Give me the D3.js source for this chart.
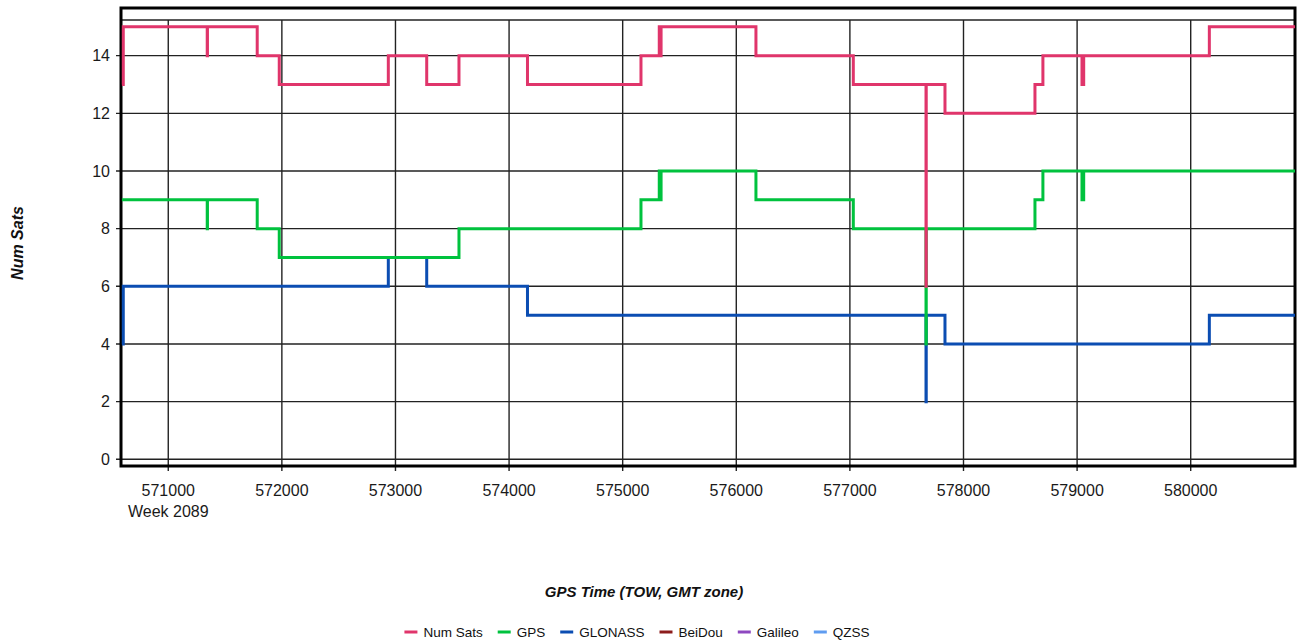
<!DOCTYPE html>
<html>
<head>
<meta charset="utf-8">
<script src="https://cdn.jsdelivr.net/npm/d3@7"></script>
<style>
  body { margin: 0; background: #fff; }
  text { font-family: "Liberation Sans", Arial, sans-serif; }
</style>
</head>
<body>
<div id="chart"></div>
<script>
// GPS time of week (s) where the satellite counts change
var times = [570592, 570604, 571343, 571345, 571783, 571977, 572937, 573275, 573559, 574162,
             575161, 575322, 575330, 575338, 576173, 577030, 577670, 577672, 577837, 578629,
             578699, 579043, 579058, 580164, 580918];
var numSats = [13, 15, 14, 15, 14, 13, 14, 13, 14, 13,
               14, 15, 14, 15, 14, 13, 6, 13, 12, 13,
               14, 13, 14, 15, 15];
var gpsSats = [9, 9, 8, 9, 8, 7, 7, 7, 8, 8,
               9, 10, 9, 10, 9, 8, 4, 8, 8, 9,
               10, 9, 10, 10, 10];
var glonassSats = [4, 6, 6, 6, 6, 6, 7, 6, 6, 5,
                   5, 5, 5, 5, 5, 5, 2, 5, 4, 4,
                   4, 4, 4, 5, 5];

var seriesNames = ["Num Sats", "GPS", "GLONASS", "BeiDou", "Galileo", "QZSS"];
var seriesColors = ["#e0356b", "#00c23e", "#0b4db2", "#8c1c1c", "#8e48c0", "#5f9cf0"];
var seriesValues = [numSats, gpsSats, glonassSats, [], [], []];

var xTicks = [571000, 572000, 573000, 574000, 575000, 576000, 577000, 578000, 579000, 580000];
var yTicks = [0, 2, 4, 6, 8, 10, 12, 14];
var weekLabel = "Week 2089";

var W = 1299, H = 643;
var plot = {left: 121, right: 1295, top: 20, bottom: 466};

var svg = d3.select("#chart").append("svg")
    .attr("width", W)
    .attr("height", H);

var x = d3.scaleLinear().domain([570584, 580918]).range([plot.left, plot.right]);
var y = d3.scaleLinear().domain([-0.232, 15.237]).range([plot.bottom, plot.top]);

// grid
svg.append("g")
    .selectAll("line.v")
    .data(xTicks)
    .enter().append("line")
    .attr("x1", d => x(d)).attr("x2", d => x(d))
    .attr("y1", plot.top).attr("y2", plot.bottom + 5)
    .attr("stroke", "#222").attr("stroke-width", 1.4);

svg.append("g")
    .selectAll("line.h")
    .data(yTicks)
    .enter().append("line")
    .attr("x1", plot.left - 5).attr("x2", plot.right)
    .attr("y1", d => y(d)).attr("y2", d => y(d))
    .attr("stroke", "#222").attr("stroke-width", 1.4);

// plot top line and outer frame
svg.append("line")
    .attr("x1", plot.left).attr("x2", plot.right)
    .attr("y1", plot.top).attr("y2", plot.top)
    .attr("stroke", "#222").attr("stroke-width", 1.4);

svg.append("rect")
    .attr("x", plot.left).attr("y", 8)
    .attr("width", plot.right - plot.left)
    .attr("height", plot.bottom - 8)
    .attr("fill", "none")
    .attr("stroke", "#000").attr("stroke-width", 3);

// tick labels
svg.append("g")
    .selectAll("text")
    .data(yTicks)
    .enter().append("text")
    .attr("x", 110)
    .attr("y", d => y(d))
    .attr("dy", "0.35em")
    .attr("text-anchor", "end")
    .attr("font-size", 16)
    .attr("fill", "#1a1a1a")
    .text(d => d);

svg.append("g")
    .selectAll("text")
    .data(xTicks)
    .enter().append("text")
    .attr("x", d => x(d))
    .attr("y", 496)
    .attr("text-anchor", "middle")
    .attr("font-size", 16)
    .attr("fill", "#1a1a1a")
    .text(d => d);

svg.append("text")
    .attr("x", x(xTicks[0]))
    .attr("y", 517)
    .attr("text-anchor", "middle")
    .attr("font-size", 16)
    .attr("fill", "#1a1a1a")
    .text(weekLabel);

// axis titles
svg.append("text")
    .attr("x", 644)
    .attr("y", 597)
    .attr("text-anchor", "middle")
    .attr("font-size", 15)
    .attr("font-weight", "bold")
    .attr("font-style", "italic")
    .attr("fill", "#111")
    .text("GPS Time (TOW, GMT zone)");

svg.append("text")
    .attr("transform", "translate(23,243) rotate(-90)")
    .attr("text-anchor", "middle")
    .attr("font-size", 16)
    .attr("font-weight", "bold")
    .attr("font-style", "italic")
    .attr("fill", "#111")
    .text("Num Sats");

// series lines, drawn in reverse so Num Sats sits on top
var line = d3.line()
    .x((d, i) => x(times[i]))
    .y(d => y(d))
    .curve(d3.curveStepAfter);

for (var s = seriesNames.length - 1; s >= 0; s--) {
    if (!seriesValues[s].length) continue;
    svg.append("path")
        .datum(seriesValues[s])
        .attr("d", line)
        .attr("fill", "none")
        .attr("stroke", seriesColors[s])
        .attr("stroke-width", 3);
}

// legend
var legend = svg.append("g");
var lx = 0;
seriesNames.forEach(function(name, i) {
    var g = legend.append("g").attr("transform", "translate(" + lx + ",0)");
    g.append("line")
        .attr("x1", 0).attr("x2", 13)
        .attr("y1", 0).attr("y2", 0)
        .attr("stroke", seriesColors[i])
        .attr("stroke-width", 3);
    var t = g.append("text")
        .attr("x", 19)
        .attr("y", 5)
        .attr("font-size", 13.5)
        .attr("fill", "#111")
        .text(name);
    lx += 19 + t.node().getComputedTextLength() + 15;
});
lx -= 15;
legend.attr("transform", "translate(" + (637 - lx / 2) + ",632)");
</script>
</body>
</html>
